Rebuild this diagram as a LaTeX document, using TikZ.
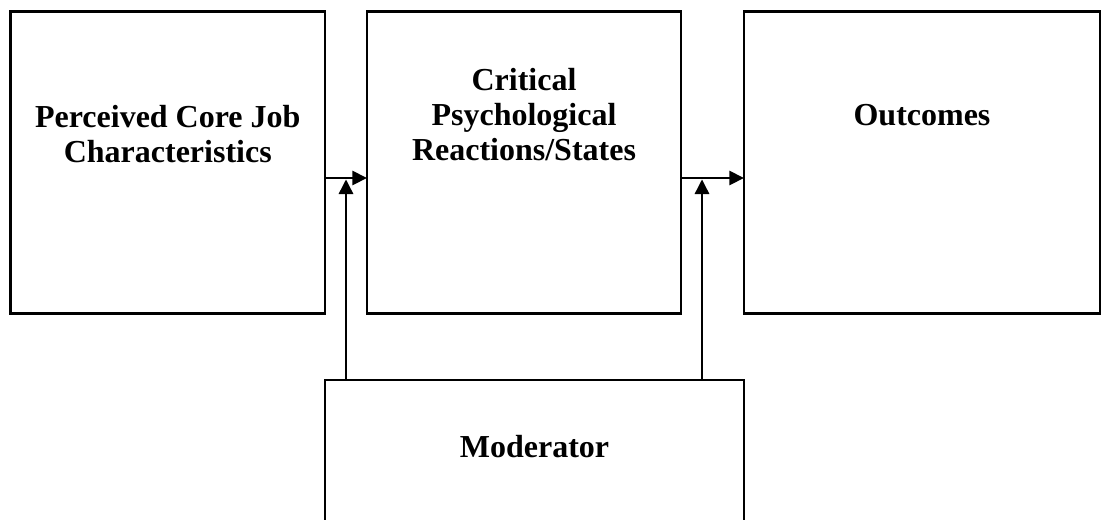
\documentclass[tikz,border=0pt]{standalone}
\usepackage{fontspec}
\setmainfont{Liberation Serif}
\usetikzlibrary{arrows.meta}
\begin{document}
\begin{tikzpicture}[x=0.75pt,y=-0.75pt,
  box/.style={draw=black, line width=2.2pt, inner sep=0pt, outer sep=0pt},
  lbl/.style={font=\bfseries\fontsize{24pt}{26.25pt}\selectfont, align=center, anchor=base, inner sep=0pt},
  arr/.style={line width=2.2pt, -{Triangle[length=11pt,width=10.5pt]}}]
  \useasboundingbox (0,0) rectangle (1104,519);
  \clip (0,0) rectangle (1104,519);
  % the three stages of the model
  \node[box, minimum width=235.9pt, minimum height=226.5pt] (b1) at (167.75,162.25) {};
  \node[box, minimum width=235.5pt, minimum height=226.5pt] (b2) at (524,162.25) {};
  \node[box, minimum width=267pt, minimum height=226.5pt] (b3) at (922,162.25) {};
  % moderator box runs past the lower edge
  \node[box, minimum width=314.25pt, minimum height=150pt] (mod) at (534.5,480) {};
  % labels (base anchor sits on the last line)
  \node[lbl] (t1) at (167.75,162) {Perceived Core Job\\Characteristics};
  \node[lbl] (t2) at (524,160) {Critical\\Psychological\\Reactions/States};
  \node[lbl] (t3) at (922,125) {Outcomes};
  \node[lbl] (t4) at (534.5,457) {Moderator};
  % junctions where the moderator acts on each link
  \coordinate (j1) at (346,178);
  \coordinate (j2) at (702,178);
  \draw[arr] (b1.east |- j1) -- (b2.west |- j1);
  \draw[arr] (b2.east |- j2) -- (b3.west |- j2);
  \draw[arr] (mod.north -| j1) -- ([yshift=-1pt]j1);
  \draw[arr] (mod.north -| j2) -- ([yshift=-1pt]j2);
\end{tikzpicture}
\end{document}
